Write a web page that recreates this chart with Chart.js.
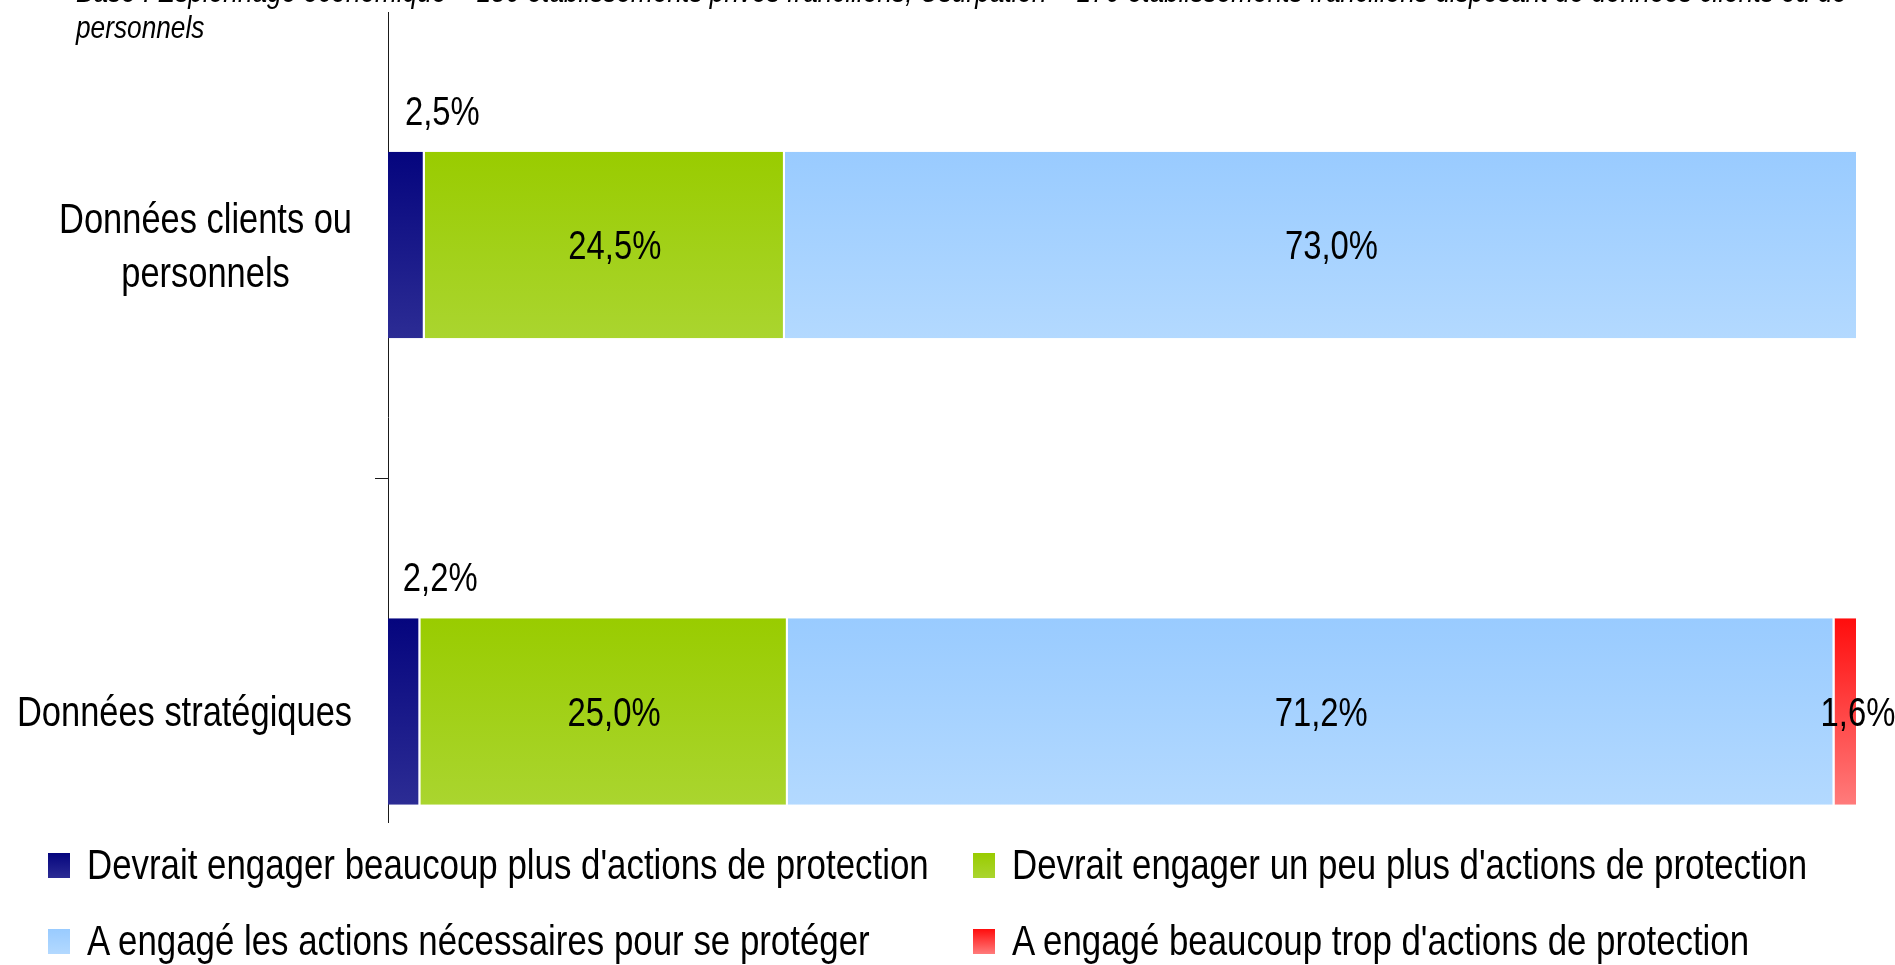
<!DOCTYPE html>
<html lang="fr">
<head>
<meta charset="utf-8">
<script src="https://cdn.jsdelivr.net/npm/chart.js@4.4.1/dist/chart.umd.min.js"></script>
<style>
    html, body { margin: 0; padding: 0; background: #fff; overflow: hidden; }
    #wrap { position: relative; width: 1895px; height: 965px; }
    #chart { position: absolute; left: 0; top: 0; }
    #note {
        position: absolute; left: 76px; top: -27px; white-space: nowrap;
        font: italic 32px "Liberation Sans", Arial, sans-serif;
        line-height: 36px; color: #000;
        transform: scaleX(0.82); transform-origin: left top;
    }
    .legend-item {
        position: absolute; height: 40px; display: flex; align-items: center;
        font: 42.5px "Liberation Sans", Arial, sans-serif;
        color: #000; white-space: nowrap;
    }
    .legend-box { width: 22px; height: 25px; margin-right: 17px; flex: none; }
    .legend-text { display: inline-block; transform: scaleX(0.82); transform-origin: left center; }
</style>
</head>
<body>
<div id="wrap">
    <canvas id="chart" width="1895" height="965"></canvas>
    <div id="note">Base : Espionnage économique = 180 établissements privés franciliens; Usurpation = 170 établissements franciliens disposant de données clients ou de<br>personnels</div>
    <div id="legend"></div>
</div>
<script>
const categories = [["Données clients ou", "personnels"], ["Données stratégiques"]];
const seriesNames = [
    "Devrait engager beaucoup plus d'actions de protection",
    "Devrait engager un peu plus d'actions de protection",
    "A engagé les actions nécessaires pour se protéger",
    "A engagé beaucoup trop d'actions de protection"
];
const beaucoupPlus = [2.5, 2.2];
const unPeuPlus = [24.5, 25.0];
const necessaires = [73.0, 71.2];
const beaucoupTrop = [0, 1.6];

const seriesColors = [
    ["#05057e", "#2c2c94"],
    ["#99cc00", "#aad52f"],
    ["#99cbff", "#b3d9ff"],
    ["#ff0d0d", "#ff7b7b"]
];
const BAR_PCT = 0.4;
const NARROW = 0.82; // Arial Narrow look: Liberation Sans squeezed
const FONT = '"Liberation Sans", Arial, sans-serif';

const fmt = (v) => v.toFixed(1).replace(".", ",") + "%";

// draw text squeezed horizontally
const drawNarrow = (ctx, text, x, y, align) => {
    const w = ctx.measureText(text).width * NARROW;
    const left = align === "center" ? x - w / 2 : align === "right" ? x - w : x;
    ctx.save();
    ctx.translate(left, y);
    ctx.scale(NARROW, 1);
    ctx.textAlign = "left";
    ctx.fillText(text, 0, 0);
    ctx.restore();
};

// vertical gradient per bar, from the y scale
const gradientFill = (top, bottom) => (c) => {
    const ys = c.chart.scales.y;
    if (!ys || c.dataIndex === undefined) return top;
    const cy = ys.getPixelForValue(c.dataIndex);
    const half = Math.abs(ys.getPixelForValue(1) - ys.getPixelForValue(0)) * BAR_PCT / 2;
    if (!isFinite(cy) || !isFinite(half) || half === 0) return top;
    const g = c.chart.ctx.createLinearGradient(0, cy - half, 0, cy + half);
    g.addColorStop(0, top);
    g.addColorStop(1, bottom);
    return g;
};

const seriesValues = [beaucoupPlus, unPeuPlus, necessaires, beaucoupTrop];
const datasets = seriesValues.map((values, i) => ({
    label: seriesNames[i],
    data: values.map((v, j) => ({ x: v, y: j })),
    backgroundColor: gradientFill(seriesColors[i][0], seriesColors[i][1]),
    borderColor: "#ffffff",
    borderWidth: { right: 2 },
    borderSkipped: "start",
    barPercentage: BAR_PCT,
    categoryPercentage: 1
}));

// value labels
const valueLabels = {
    id: "valueLabels",
    afterDatasetsDraw(chart) {
        const ctx = chart.ctx;
        ctx.save();
        ctx.font = "40px " + FONT;
        ctx.fillStyle = "#000";
        ctx.textBaseline = "middle";
        chart.data.datasets.forEach((ds, i) => {
            chart.getDatasetMeta(i).data.forEach((bar, j) => {
                const v = ds.data[j].x;
                if (!v) return;
                const p = bar.getProps(["x", "y", "base", "height"], true);
                let x = (p.x + p.base) / 2 + 10;
                let y = p.y + 3;
                if (i === 0) {
                    x = (p.x + p.base) / 2 + 36;
                    y = p.y - p.height / 2 - 38;
                } else if (i === 3) {
                    x = p.x;
                }
                drawNarrow(ctx, fmt(v), x, y, "center");
            });
        });
        ctx.restore();
    }
};

// category labels: right-aligned block, lines centred
const categoryLabels = {
    id: "categoryLabels",
    afterDraw(chart) {
        const ctx = chart.ctx;
        const ys = chart.scales.y;
        ctx.save();
        ctx.font = "42px " + FONT;
        ctx.fillStyle = "#000";
        ctx.textBaseline = "middle";
        categories.forEach((lines, j) => {
            const cy = ys.getPixelForValue(j) + 3;
            const w = Math.max(...lines.map(l => ctx.measureText(l).width)) * NARROW;
            const cx = ys.right - 36 - w / 2;
            lines.forEach((l, k) => {
                drawNarrow(ctx, l, cx, cy + (k - (lines.length - 1) / 2) * 54, "center");
            });
        });
        ctx.restore();
    }
};

const chart = new Chart(document.getElementById("chart"), {
    type: "bar",
    data: { datasets: datasets },
    options: {
        indexAxis: "y",
        responsive: false,
        animation: false,
        devicePixelRatio: 1,
        layout: { padding: { left: 0, right: 37, top: 12, bottom: 143 } },
        plugins: {
            legend: { display: false },
            tooltip: { enabled: false }
        },
        scales: {
            x: { type: "linear", min: 0, max: 100, stacked: true, display: false },
            y: {
                type: "linear",
                reverse: true,
                stacked: true,
                offset: false,
                min: -0.4995,
                max: 1.2368,
                afterBuildTicks: (s) => { s.ticks = [{ value: 0.5 }]; },
                afterFit: (s) => { s.width = 388; },
                ticks: { display: false },
                grid: { offset: false, drawOnChartArea: false, drawTicks: true, tickLength: 13, color: "#1a1a1a", lineWidth: 1 },
                border: { display: true, color: "#1a1a1a", width: 1 }
            }
        }
    },
    plugins: [valueLabels, categoryLabels]
});

// legend built from the datasets
const legend = document.getElementById("legend");
const legendPos = [[48, 845], [973, 845], [48, 921], [973, 921]];
chart.data.datasets.forEach((ds, i) => {
    const item = document.createElement("div");
    item.className = "legend-item";
    item.style.left = legendPos[i][0] + "px";
    item.style.top = legendPos[i][1] + "px";
    const box = document.createElement("span");
    box.className = "legend-box";
    box.style.background = "linear-gradient(" + seriesColors[i][0] + ", " + seriesColors[i][1] + ")";
    const text = document.createElement("span");
    text.className = "legend-text";
    text.textContent = ds.label;
    item.appendChild(box);
    item.appendChild(text);
    legend.appendChild(item);
});
</script>
</body>
</html>
